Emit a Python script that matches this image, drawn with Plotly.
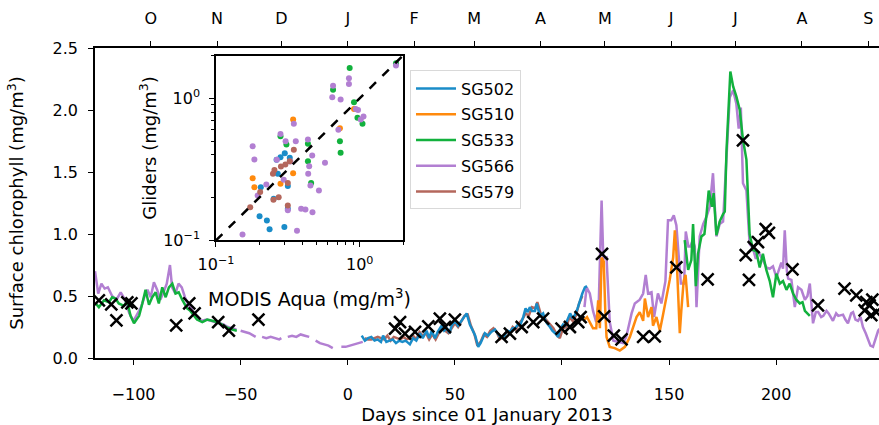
import plotly.graph_objects as go

N = None
# ---------------- main time series (days since 01 Jan 2013, chl mg/m3) ----------------
sg566_day = [-118, -116.5, -115, -113.5, -112, -110, -108, -106, -104, -102, -100, -98, -96.5, -95, -93.5,
             -92, -90.5, -89, -87.5, -86, -84.5, -83, -82, -80.5, -79, -77.5, -76, -74.5, -73, -71.5, -70,
             -68, -66, -64, -62, -60, -58, -56, -54, -52, N,
             -50, -48, -46, -44, -43, N, -40, -38, -36, -34, -32, -31, N, -28, -26, -24, -22, -20, -18, N,
             -15, -13, -11, -9, -7, N, -3, -1, 1, 3, 5, 7, N,
             110.5, 111.5, 113, 114.5, 116, 117.2, 118.5, 119.3, 120.8, 121.6, 122.3, 124, 126, 128.5, 130,
             132.5, 134, 136.3, 137.9, 139.1, 140.2, 141.8, 143, 144.8, 146.4, 148.3, 149.5, 151, 152.2, 153.4,
             154.6, 155.5, 157, 157.8, 159, 160, 161, 162, 162.8, 164.3, 165.9, 167.5, 169, 170.5, 172.1, 173.6,
             175.2, 176.8, 178.3, 179.9, 181.4, 182.5, 183.5, 184.5, 186.1, 187.6, 189.2, 190.5, 191.5, 193.8,
             195.4, 197, 198.5, 200.1, 201.5, 202.4, 203.2, 204, 205, 205.6, 207.1, 208.7, 210.2, 211.8, 213.4,
             214.6, 215.7, 217.2, 218.5, 219.6, 221, 222, 223.5, 224.5, 226.5, 228, 229, 231.2, 232.3, 233.5,
             235, 235.9, 237, 238.2, 239.4, 240.5, 241.8, 242.9, 244, 245.2, 246.4, 247.6, 249]
sg566_chl = [0.70, 0.52, 0.60, 0.56, 0.57, 0.50, 0.47, 0.53, 0.47, 0.36, 0.30, 0.36, 0.41, 0.49, 0.55,
             0.49, 0.61, 0.55, 0.47, 0.53, 0.60, 0.75, 0.57, 0.52, 0.60, 0.57, 0.49, 0.43, 0.40, 0.35, 0.31,
             0.30, 0.31, 0.30, 0.29, 0.28, 0.27, 0.25, 0.24, 0.23, N,
             0.22, 0.21, 0.20, 0.18, 0.17, N, 0.17, 0.16, 0.17, 0.16, 0.15, 0.16, N, 0.17, 0.18, 0.17, 0.19, 0.18, 0.17, N,
             0.14, 0.12, 0.11, 0.10, 0.08, N, 0.09, 0.09, 0.10, 0.11, 0.12, 0.13, N,
             0.41, 0.57, 0.52, 0.38, 0.29, 0.46, 1.27, 0.80, 0.81, 0.45, 0.29, 0.14, 0.13, 0.12, 0.17,
             0.36, 0.44, 0.47, 0.52, 0.67, 0.52, 0.53, 0.33, 0.52, 0.44, 0.62, 1.11, 1.11, 1.15, 1.07,
             0.80, 0.60, 0.60, 1.02, 0.90, 0.90, 0.95, 0.90, 0.41, 0.98, 1.08, 1.14, 1.22, 1.49, 0.98, 1.08,
             1.10, 1.67, 2.10, 2.16, 2.05, 1.85, 2.02, 1.41, 1.35, 0.92, 0.88, 0.80, 0.86, 0.79,
             0.73, 0.72, 0.74, 0.65, 0.72, 0.77, 0.72, 1.03, 0.70, 0.64, 0.63, 0.41, 0.57, 0.55, 0.47,
             0.50, 0.60, 0.28, 0.37, 0.37, 0.33, 0.34, 0.38, 0.36, 0.30, 0.36, 0.34, 0.35, 0.31, 0.28,
             0.36, 0.37, 0.31, 0.30, 0.33, 0.25, 0.20, 0.14, 0.10, 0.09, 0.15, 0.22, 0.25]

sg533_day = [-117.7, -116.2, -113.8, -111.5, -110, -108.4, -106.9, -104.5, -103, -101.4, -99.8, -97.4, -95.9,
             -94.4, -92.8, -91.3, -89.7, -88.2, -86.6, -85, -83.5, -81.9, -80.4, -78.9, -77.3, -75, -73.5,
             -71.9, -70.4, -67.9, -65.6, -63.3, -61, -58.7, -56.3, -54, -51.8, N,
             157.3, 158.9, 160.4, 161.2, 162.5, 163.5, 165.1, 166.5, 167.5, 168.5, 170, 170.8, 172.1, 173.6,
             175.2, 176, 176.8, 178.6, 179.9, 181.4, 183, 184.5, 186.1, 187.6, 189.2, 190.7, 192.3, 193.8,
             195.4, 197, 198.5, 200.1, 201.7, 203.2, 204.8, 206.3, 207.9, 209.4, 211, 212.3, 213.4, 215.7]
sg533_chl = [0.44, 0.41, 0.465, 0.45, 0.49, 0.48, 0.44, 0.42, 0.46, 0.34, 0.28, 0.34, 0.44,
             0.55, 0.43, 0.49, 0.53, 0.44, 0.57, 0.49, 0.57, 0.60, 0.52, 0.53, 0.47, 0.40, 0.38,
             0.34, 0.31, 0.29, 0.31, 0.30, 0.29, 0.27, 0.245, 0.23, 0.22, N,
             0.95, 0.71, 0.79, 1.08, 0.58, 0.84, 0.98, 1.00, 1.16, 1.35, 1.22, 1.33, 0.99, 1.10,
             1.16, 1.18, 1.67, 2.31, 2.19, 2.11, 2.00, 1.76, 1.60, 1.00, 0.87, 0.86, 0.73, 0.84,
             0.71, 0.62, 0.49, 0.68, 0.60, 0.62, 0.55, 0.60, 0.52, 0.47, 0.44, 0.45, 0.38, 0.34]

sg510_day = [109.9, 111.7, 114.5, 116, 116.9, 117.7, 118.5, 119.5, 120.2, 120.8, 122.3, 124.6, 127, 129.4,
             131.7, 133.2, 134.8, 136.3, 137.9, 138.7, 140.2, 141.8, 142.5, 144.1, 145.7, 147.2, 148.8,
             150.3, 151.9, 152.7, 153.4, 154.2, 155, 155.7, 156.8, 157.7, 158.9]
sg510_chl = [0.30, 0.33, 0.24, 0.24, 0.465, 0.24, 0.81, 0.78, 0.39, 0.17, 0.09, 0.08, 0.06, 0.09,
             0.17, 0.25, 0.33, 0.37, 0.30, 0.48, 0.33, 0.41, 0.26, 0.33, 0.22, 0.35, 0.49,
             0.63, 0.81, 1.03, 0.86, 0.49, 0.20, 0.38, 0.62, 0.67, 0.41]

sg502_day = [6.5, 8, 9.5, 11, 12.5, 14, 15.5, 16.5, 18, 19.5, 21, 22.5, 24, 25.5, 27, 29, 30.5, 32, 33.7, 35,
             36.8, 38, 39.2, 40.7, 42, 43.8, 45, 46.2, 47.5, 48.5, 50, 51.5, 53.2, 54.5, 55.5, 57, 58.5, 59.5,
             60.9, 62, 63, 64, 65.5, 67, 68.7, 70, 71.1, 72.5, 73.4, 74.5, 75.7, 77, 78.1, 79.5, 80.4, 81.9,
             83, 84, 85, 86, 87.4, 88.2, 89.7, 91.2, 92.1, 93, 94.4, 95.5, 96.8, 98.2, 99.1, 100.5, 101.4,
             102.5, 103.8, 105, 106.1, 107.3, 108.4, 109.5, 110.7, 111.7]
sg502_chl = [0.18, 0.14, 0.16, 0.17, 0.14, 0.15, 0.13, 0.18, 0.13, 0.14, 0.15, 0.12, 0.14, 0.13, 0.14, 0.11,
             0.16, 0.14, 0.20, 0.16, 0.22, 0.16, 0.22, 0.16, 0.21, 0.26, 0.22, 0.24, 0.20, 0.26, 0.30, 0.26,
             0.30, 0.33, 0.36, 0.27, 0.22, 0.18, 0.09, 0.12, 0.16, 0.20, 0.18, 0.21, 0.23, 0.20, 0.17, 0.16,
             0.19, 0.22, 0.21, 0.24, 0.24, 0.27, 0.26, 0.33, 0.40, 0.37, 0.41, 0.38, 0.38, 0.44, 0.34, 0.36,
             0.31, 0.28, 0.25, 0.22, 0.20, 0.17, 0.23, 0.27, 0.26, 0.30, 0.36, 0.32, 0.35, 0.40, 0.47, 0.52,
             0.57, 0.58]

sg579_day = [8, 9.5, 11, 12.5, 14, 15.5, 17, 18.5, 20, 21.5, 23, 24.5, 26, 27.5, 29, 30.5, 32, 33.5, 35, 36.5,
             38, 39.5, 41, 42.5, 44, 45.5, 47, 48.5, 50, 51.5, 53, 54.5, 56, 57.5, 59, 60.5, 62, 63.5, 65, 66.5,
             68, 69.5, 71, 72.5, 74, 75.5, 77, 78.5, 80, 81.5, 83, 84.5, 86, 87.5, 88.5, 90, 91.5, 93, 94.5, 96,
             97.5, 99, 100.5, 102, 103.5, 105, 106.5, 108, 109.5]
sg579_chl = [0.16, 0.15, 0.15, 0.16, 0.17, 0.16, 0.15, 0.18, 0.14, 0.17, 0.16, 0.15, 0.17, 0.15, 0.16, 0.18,
             0.15, 0.21, 0.18, 0.20, 0.15, 0.19, 0.15, 0.20, 0.25, 0.22, 0.20, 0.24, 0.28, 0.25, 0.29, 0.34,
             0.35, 0.26, 0.20, 0.10, 0.13, 0.19, 0.17, 0.22, 0.24, 0.21, 0.15, 0.17, 0.21, 0.20, 0.25, 0.23,
             0.28, 0.31, 0.36, 0.34, 0.41, 0.40, 0.45, 0.36, 0.33, 0.30, 0.27, 0.24, 0.19, 0.16, 0.24, 0.25,
             0.33, 0.30, 0.34, 0.44, 0.50]

modis_day = [-116.2, -110.4, -108, -102.9, -101, -80.1, -74, -71.5, -60.5, -55.5, -41.7,
             22.1, 24.4, 26.7, 31.4, 37.6, 43, 45.4, 50,
             71.8, 75.7, 81.2, 86.6, 91.2, 99.8, 103.7, 107.6, 108.7, 118.7, 119.7, 124.2, 127.8,
             137.9, 143.3, 153.4, 168, 184.5, 185.8, 187.3, 189.5, 191.5, 195.1, 196.6, 207.6, 219.5,
             231.9, 237.4, 242.1, 244.9, 241.3, 244.4, 243.6, 246.8]
modis_chl = [0.465, 0.433, 0.304, 0.449, 0.441, 0.264, 0.44, 0.36, 0.29, 0.22, 0.31,
             0.237, 0.29, 0.197, 0.21, 0.256, 0.318, 0.25, 0.31,
             0.17, 0.197, 0.25, 0.29, 0.318, 0.237, 0.25, 0.29, 0.33, 0.84, 0.336, 0.18, 0.15,
             0.17, 0.175, 0.73, 0.635, 1.755, 0.83, 0.63, 0.895, 0.935, 1.04, 1.01, 0.715, 0.425,
             0.56, 0.505, 0.45, 0.47, 0.385, 0.345, 0.425, 0.37]

# ---------------- inset scatter: MODIS vs glider ----------------
sc502_modis = [0.301, 0.264, 0.281, 0.326, 0.269, 0.316, 0.205, 0.252, 0.201, 0.226, 0.236, 0.299, 0.316]
sc502_glider = [0.411, 0.369, 0.385, 0.381, 0.294, 0.241, 0.237, 0.196, 0.148, 0.138, 0.120, 0.124, 0.167]
sc510_modis = [0.344, 0.728, 0.180, 0.185, 0.281, 0.344, 0.912]
sc510_glider = [0.708, 0.615, 0.274, 0.237, 0.250, 0.297, 0.841]
sc533_modis = [0.851, 1.786, 0.652, 0.912, 0.964, 1.045, 0.728, 0.736, 0.281, 0.309, 0.436, 0.436, 0.459]
sc533_glider = [1.633, 1.762, 1.146, 0.938, 0.728, 0.661, 0.499, 0.413, 0.541, 0.472, 0.478, 0.361, 0.253]
sc566_modis = [1.786, 0.841, 0.841, 0.652, 0.644, 0.736, 0.938, 0.973, 1.016, 1.062, 0.281, 0.348, 0.305,
               0.359, 0.436, 0.180, 0.185, 0.265, 0.329, 0.467, 0.445, 0.573, 0.710, 0.438, 0.454, 0.520,
               0.296, 0.224, 0.195, 0.316, 0.391, 0.419, 0.469, 0.366, 0.153]
sc566_glider = [1.698, 1.384, 1.262, 1.227, 1.016, 0.979, 0.841, 0.828, 0.708, 0.743, 0.561, 0.661, 0.499,
                0.499, 0.513, 0.460, 0.371, 0.369, 0.359, 0.395, 0.333, 0.352, 0.600, 0.294, 0.243, 0.224,
                0.267, 0.247, 0.207, 0.163, 0.167, 0.165, 0.158, 0.117, 0.110]
sc579_modis = [0.348, 0.326, 0.304, 0.283, 0.249, 0.255, 0.316, 0.273, 0.251, 0.316, 0.173, 0.203]
sc579_glider = [0.434, 0.361, 0.342, 0.331, 0.294, 0.313, 0.253, 0.201, 0.193, 0.176, 0.171, 0.219]
one_to_one = [0.1, 2.0]

# ---------------- ticks ----------------
x_ticks = [-100, -50, 0, 50, 100, 150, 200]
x_ticktext = ["\u2212100", "\u221250", "0", "50", "100", "150", "200"]
y_ticks = [0.0, 0.5, 1.0, 1.5, 2.0, 2.5]
y_ticktext = ["0.0", "0.5", "1.0", "1.5", "2.0", "2.5"]
month_days = [-92, -61, -31, 0, 31, 59, 90, 120, 151, 181, 212, 243]
month_labels = ["O", "N", "D", "J", "F", "M", "A", "M", "J", "J", "A", "S"]
x_range = [-118, 248]
y_range = [0, 2.5]

names = ["SG502", "SG510", "SG533", "SG566", "SG579"]
colors = {"SG502": "#1a8cc8", "SG510": "#ff8a0d", "SG533": "#12b13d", "SG566": "#b27fd2", "SG579": "#b4675c"}
series = {"SG502": (sg502_day, sg502_chl), "SG510": (sg510_day, sg510_chl), "SG533": (sg533_day, sg533_chl),
          "SG566": (sg566_day, sg566_chl), "SG579": (sg579_day, sg579_chl)}
scatter = {"SG502": (sc502_modis, sc502_glider), "SG510": (sc510_modis, sc510_glider),
           "SG533": (sc533_modis, sc533_glider), "SG566": (sc566_modis, sc566_glider),
           "SG579": (sc579_modis, sc579_glider)}

FONT = "DejaVu Sans"
fig = go.Figure()

draw_order = ["SG566", "SG579", "SG502", "SG510", "SG533"]
for nm in draw_order:
    d, c = series[nm]
    fig.add_trace(go.Scatter(x=d, y=c, mode="lines", name=nm, legendrank=names.index(nm) + 1,
                             legendgroup=nm,
                             line=dict(color=colors[nm], width=2.5), connectgaps=False,
                             xaxis="x", yaxis="y"))

fig.add_trace(go.Scatter(x=modis_day, y=modis_chl, mode="markers", showlegend=False,
                         marker=dict(symbol="x-thin", size=12, line=dict(color="black", width=2.5)),
                         xaxis="x", yaxis="y"))

# invisible trace to anchor the top month axis
fig.add_trace(go.Scatter(x=x_range, y=[None, None], mode="markers", showlegend=False, hoverinfo="skip",
                         xaxis="x2", yaxis="y"))

# inset
for nm in names:
    mx, gy = scatter[nm]
    fig.add_trace(go.Scatter(x=mx, y=gy, mode="markers", showlegend=False,
                             marker=dict(color=colors[nm], size=6), xaxis="x3", yaxis="y3"))
fig.add_trace(go.Scatter(x=one_to_one, y=one_to_one, mode="lines", showlegend=False,
                         line=dict(color="black", width=2.5, dash="dash"), xaxis="x3", yaxis="y3"))

axis_common = dict(showline=True, linecolor="black", linewidth=1.5, ticks="outside", ticklen=5,
                   tickwidth=1.2, tickcolor="black", showgrid=False, zeroline=False, automargin=False,
                   tickfont=dict(family=FONT, size=16, color="black"))

minor_log = dict(ticks="outside", ticklen=3, tickcolor="black", tickwidth=1,
                 tickvals=[0.2, 0.3, 0.4, 0.5, 0.6, 0.7, 0.8, 0.9, 2.0])

fig.update_layout(
    width=879, height=425,
    margin=dict(l=95, r=0, t=48, b=67, autoexpand=False),
    paper_bgcolor="white", plot_bgcolor="white",
    font=dict(family=FONT, color="black"),
    xaxis=dict(domain=[0, 1], range=x_range, tickmode="array", tickvals=x_ticks, ticktext=x_ticktext,
               ticklabelstandoff=16,
               title=dict(text="Days since 01 January 2013", font=dict(family=FONT, size=18), standoff=1),
               anchor="y", **axis_common),
    xaxis2=dict(overlaying="x", side="top", range=x_range, tickmode="array", tickvals=month_days,
                ticktext=month_labels, anchor="y", ticklabelstandoff=11, **axis_common),
    yaxis=dict(domain=[0, 1], range=y_range, tickmode="array", tickvals=y_ticks, ticktext=y_ticktext,
               ticklabelstandoff=7,
               title=dict(text="Surface chlorophyll (mg/m<sup>3</sup>)", font=dict(family=FONT, size=18),
                          standoff=24),
               anchor="x", **axis_common),
    xaxis3=dict(domain=[0.1543, 0.3929], type="log", range=[-1, 0.301], anchor="y3", mirror=True,
                tickmode="array", tickvals=[0.1, 1], ticktext=["10<sup>\u22121</sup>", "10<sup>0</sup>"],
                minor=minor_log, ticklabelstandoff=4,
                title=dict(text="MODIS Aqua (mg/m<sup>3</sup>)", font=dict(family=FONT, size=19), standoff=19),
                **axis_common),
    yaxis3=dict(domain=[0.3794, 0.9758], type="log", range=[-1, 0.301], anchor="x3", mirror=True,
                tickmode="array", tickvals=[0.1, 1], ticktext=["10<sup>\u22121</sup>", "10<sup>0</sup>"],
                minor=minor_log, ticklabelstandoff=6,
                title=dict(text="Gliders (mg/m<sup>3</sup>)", font=dict(family=FONT, size=18), standoff=2),
                **axis_common),
    legend=dict(x=0.4018, y=0.9275, xanchor="left", yanchor="top", bgcolor="white",
                bordercolor="#d9d9d9", borderwidth=1, font=dict(family=FONT, size=16, color="black"),
                itemwidth=40, traceorder="grouped", tracegroupgap=2),
    showlegend=True,
)

fig.write_html("out.html", config={"displayModeBar": False},
               post_script="document.body.style.margin='0';")
